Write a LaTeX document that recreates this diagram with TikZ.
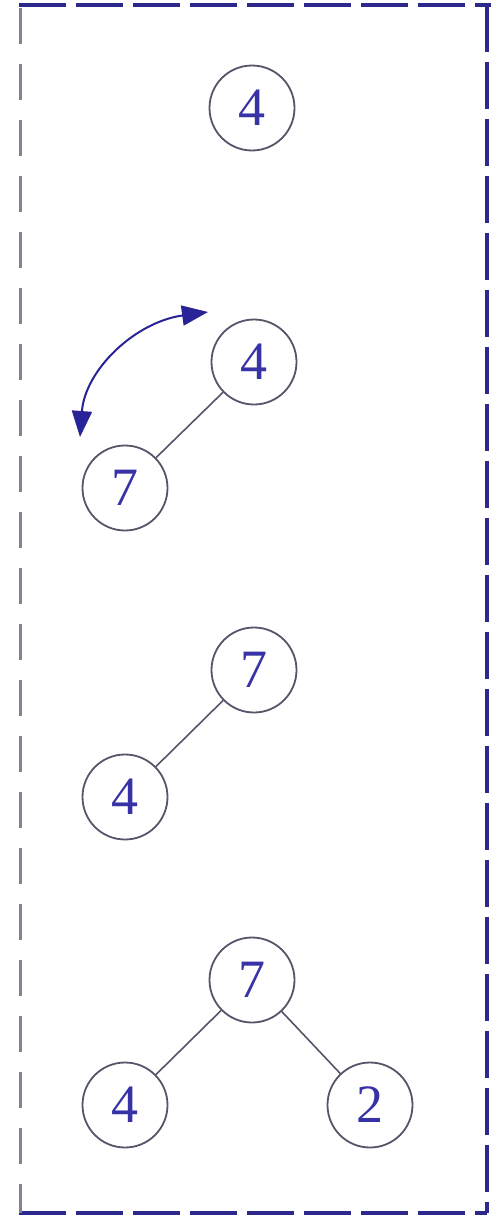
\documentclass[tikz,border=0pt]{standalone}
\usepackage{fontspec}
\setmainfont{Liberation Serif}
\usetikzlibrary{arrows.meta}
\definecolor{framecol}{RGB}{45,40,140}
\definecolor{leftcol}{RGB}{130,130,150}
\definecolor{txtcol}{RGB}{55,50,165}
\definecolor{circcol}{RGB}{85,85,105}
\definecolor{arrcol}{RGB}{40,35,150}
\begin{document}
\begin{tikzpicture}[x=1pt,y=-1pt,
  keynode/.style={circle,draw=circcol,line width=1.8pt,minimum size=85pt,inner sep=0pt,
    text=txtcol,font=\fontsize{54}{56}\selectfont},
  treeedge/.style={draw=circcol,line width=1.6pt},
  framedash/.style={line width=4pt,dash pattern=on 47pt off 10pt},
  swaparrow/.style={draw=arrcol,line width=2pt,{Triangle[length=26pt,width=20pt]}-{Triangle[length=26pt,width=20pt]}}]
\useasboundingbox (0,0) rectangle (491,1215);
% frame
\draw[framedash,draw=framecol] (19,5) -- (491,5);
\draw[framedash,draw=framecol] (487,5) -- (487,1213);
\draw[framedash,draw=framecol] (19,1213) -- (487,1213);
\draw[line width=3pt,draw=leftcol,dash pattern=on 36pt off 20pt] (20,8) -- (20,1213);
% stage 1
\node[keynode] (a1) at (252,108) {4};
% stage 2
\node[keynode] (b1) at (254,362) {4};
\node[keynode] (b2) at (125,488) {7};
\draw[treeedge] (b1) -- (b2);
\coordinate (s1) at (80,437);
\coordinate (s2) at (208,312);
\draw[swaparrow] (s1) .. controls (85,370) and (135,322) .. (s2);
% stage 3
\node[keynode] (c1) at (254,670) {7};
\node[keynode] (c2) at (125,797) {4};
\draw[treeedge] (c1) -- (c2);
% stage 4
\node[keynode] (d1) at (252,980) {7};
\node[keynode] (d2) at (125,1105) {4};
\node[keynode] (d3) at (370,1105) {2};
\draw[treeedge] (d1) -- (d2);
\draw[treeedge] (d1) -- (d3);
\end{tikzpicture}
\end{document}
